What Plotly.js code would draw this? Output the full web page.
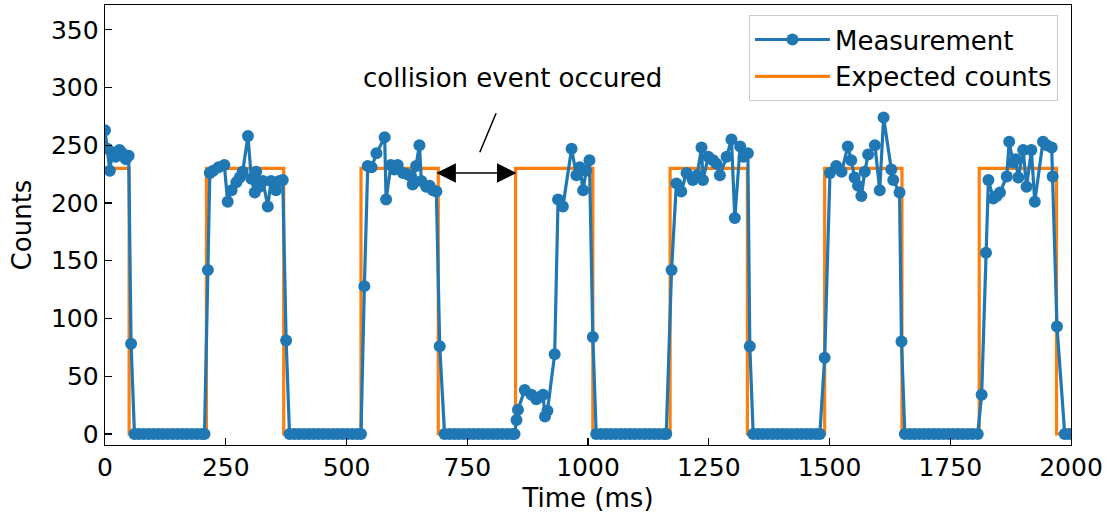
<!DOCTYPE html>
<html>
<head>
<meta charset="utf-8">
<script src="https://cdn.plot.ly/plotly-3.0.1.min.js"></script>
<style>html,body{margin:0;padding:0;background:#fff;}#chart{width:1107px;height:516px;}</style>
</head>
<body>
<div id="chart"></div>
<script>
// Measurement samples (time in ms, counts)
var measuredTime = [
  0, 5, 10, 15, 22, 30, 36, 43, 49, 54,
  61, 70, 80, 90, 100, 110, 120, 130, 140, 150, 160, 170, 180, 190, 200, 206,
  213, 217, 224, 235, 247, 254, 262, 272, 279, 285, 296, 303, 310, 313, 320, 327, 337, 344, 354, 361, 368, 375,
  382, 392, 402, 412, 422, 432, 442, 452, 462, 472, 482, 492, 502, 512, 522, 530,
  537, 544, 552, 562, 579, 582, 592, 599, 606, 617, 626, 634, 637, 644, 651, 655, 665, 672, 679, 686, 693,
  703, 713, 723, 733, 743, 753, 763, 773, 783, 793, 803, 813, 823, 833, 843, 848,
  852, 855, 869, 883, 893, 900, 907, 911, 916, 931, 938, 948, 966, 976, 983, 990, 996, 1003, 1010,
  1017, 1027, 1037, 1047, 1057, 1067, 1077, 1087, 1097, 1107, 1117, 1127, 1137, 1147, 1157, 1162,
  1173, 1183, 1193, 1204, 1217, 1226, 1235, 1238, 1249, 1259, 1266, 1273, 1287, 1297, 1304, 1315, 1322, 1331, 1335,
  1342, 1352, 1362, 1372, 1382, 1392, 1402, 1412, 1422, 1432, 1442, 1452, 1462, 1472, 1480,
  1490, 1501, 1514, 1525, 1538, 1545, 1552, 1559, 1566, 1573, 1580, 1594, 1604, 1612, 1628, 1632, 1645, 1649,
  1656, 1666, 1676, 1686, 1696, 1706, 1716, 1726, 1736, 1746, 1756, 1766, 1776, 1786, 1796, 1807,
  1815, 1824, 1829, 1839, 1846, 1853, 1867, 1872, 1880, 1885, 1891, 1901, 1908, 1918, 1925, 1942, 1950, 1960, 1962, 1971, 1987, 1996
];
var measuredCounts = [
  263, 247, 228, 244, 240, 246, 243, 238, 241, 78,
  0, 0, 0, 0, 0, 0, 0, 0, 0, 0, 0, 0, 0, 0, 0, 0,
  142, 226, 228, 231, 233, 201, 211, 218, 222, 227, 258, 221, 209, 227, 214, 219, 197, 219, 211, 219, 220, 81,
  0, 0, 0, 0, 0, 0, 0, 0, 0, 0, 0, 0, 0, 0, 0, 0,
  128, 232, 231, 243, 257, 203, 233, 229, 233, 226, 225, 223, 216, 232, 250, 219, 214, 215, 211, 210, 76,
  0, 0, 0, 0, 0, 0, 0, 0, 0, 0, 0, 0, 0, 0, 0, 0,
  12, 21, 38, 34, 30, 32, 34, 15, 20, 69, 203, 197, 247, 224, 231, 211, 228, 237, 84,
  0, 0, 0, 0, 0, 0, 0, 0, 0, 0, 0, 0, 0, 0, 0, 0,
  142, 217, 210, 226, 220, 224, 248, 220, 240, 237, 234, 224, 240, 255, 187, 249, 240, 243, 76,
  0, 0, 0, 0, 0, 0, 0, 0, 0, 0, 0, 0, 0, 0, 0,
  66, 226, 232, 227, 249, 237, 222, 215, 206, 227, 242, 250, 211, 274, 229, 220, 209, 80,
  0, 0, 0, 0, 0, 0, 0, 0, 0, 0, 0, 0, 0, 0, 0, 0,
  34, 157, 220, 204, 206, 209, 223, 253, 235, 238, 222, 246, 214, 246, 201, 253, 250, 248, 223, 93, 0, 0
];
// Expected square wave
var expectedTime = [0, 50, 50, 210, 210, 370, 370, 530, 530, 690, 690, 850, 850, 1010, 1010, 1170, 1170, 1330, 1330, 1490, 1490, 1650, 1650, 1810, 1810, 1970, 1970, 2000];
var expectedCounts = [230, 230, 0, 0, 230, 230, 0, 0, 230, 230, 0, 0, 230, 230, 0, 0, 230, 230, 0, 0, 230, 230, 0, 0, 230, 230, 0, 0];

var yTicks = [0, 50, 100, 150, 200, 250, 300, 350];
var xTicks = [0, 250, 500, 750, 1000, 1250, 1500, 1750, 2000];
var annotationText = "collision event occured";

var FONT = "DejaVu Sans, sans-serif";
var TXT = 26;

var traces = [
  {x: expectedTime, y: expectedCounts, type: "scatter", mode: "lines", name: "Expected counts",
   line: {color: "#ff7f0e", width: 3.2}, legendrank: 2},
  {x: measuredTime, y: measuredCounts, type: "scatter", mode: "lines+markers", name: "Measurement",
   line: {color: "#1f77b4", width: 3.2}, marker: {color: "#1f77b4", size: 12}, legendrank: 1}
];

var axisCommon = {
  showline: true, mirror: true, linecolor: "#000", linewidth: 1.3,
  ticks: "inside", ticklen: 7, tickwidth: 1.3, tickcolor: "#000",
  showgrid: false, zeroline: false,
  tickfont: {family: FONT, size: 25, color: "#000"}
};

var layout = {
  width: 1107, height: 516,
  margin: {l: 105, r: 36, t: 5, b: 71},
  paper_bgcolor: "#fff", plot_bgcolor: "#fff",
  showlegend: true,
  font: {family: FONT, size: TXT, color: "#000"},
  xaxis: Object.assign({}, axisCommon, {
    range: [0, 2000], tickvals: xTicks, ticktext: xTicks.map(String),
    title: {text: "Time (ms)", font: {family: FONT, size: TXT, color: "#000"}, standoff: 7}
  }),
  yaxis: Object.assign({}, axisCommon, {
    range: [-9.6, 371.5], tickvals: yTicks, ticktext: yTicks.map(String),
    title: {text: "Counts", font: {family: FONT, size: TXT, color: "#000"}, standoff: 12}
  }),
  legend: {
    x: 0.9865, y: 0.977, xanchor: "right", yanchor: "top",
    bgcolor: "rgba(255,255,255,0.8)", bordercolor: "#cccccc", borderwidth: 1,
    font: {family: FONT, size: TXT, color: "#000"},
    traceorder: "normal", itemwidth: 75, tracegroupgap: 4
  },
  annotations: [
    {x: 852, y: 226, ax: 683, ay: 226, xref: "x", yref: "y", axref: "x", ayref: "y",
     text: "", showarrow: true, arrowside: "end+start", arrowhead: 2, arrowsize: 2.6, arrowwidth: 1.5, arrowcolor: "#000"},
    {x: 776, y: 244, ax: 811, ay: 279, xref: "x", yref: "y", axref: "x", ayref: "y",
     text: "", showarrow: true, arrowhead: 0, arrowwidth: 1.5, arrowcolor: "#000"},
    {x: 844, y: 308.5, xref: "x", yref: "y", text: annotationText, showarrow: false,
     font: {family: FONT, size: TXT, color: "#000"}, xanchor: "center", yanchor: "middle"}
  ]
};

Plotly.newPlot("chart", traces, layout, {displayModeBar: false, staticPlot: true});
</script>
</body>
</html>
